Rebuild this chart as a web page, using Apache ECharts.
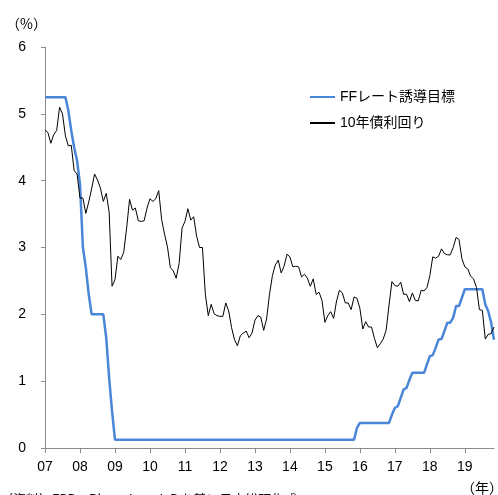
<!DOCTYPE html>
<html lang="ja">
<head>
    <meta charset="UTF-8">
    <title>FFレート誘導目標と10年債利回り</title>
    <style type="text/css">
        *{
            margin: 0;
            padding: 0;
        }
        #main{
            width: 498px;
            height: 495px;
            position: absolute;
        }
    </style>
</head>
<body>
    <div id="main"></div>
    <script src="https://cdn.jsdelivr.net/npm/echarts@6/dist/echarts.min.js"></script>
    <script type="text/javascript">
        // 月次データ（2007年1月～2019年11月）
        var years = ['2007','2008','2009','2010','2011','2012','2013','2014','2015','2016','2017','2018','2019'];
        var lastMonth = 11;

        var ffRate = [
            5.25,5.25,5.25,5.25,5.25,5.25,5.25,5.25,5.05,4.75,4.5,4.3,      // 07
            3.95,3.0,2.7,2.3,2.0,2.0,2.0,2.0,2.0,1.65,1.05,0.55,           // 08
            0.125,0.125,0.125,0.125,0.125,0.125,0.125,0.125,0.125,0.125,0.125,0.125, // 09
            0.125,0.125,0.125,0.125,0.125,0.125,0.125,0.125,0.125,0.125,0.125,0.125, // 10
            0.125,0.125,0.125,0.125,0.125,0.125,0.125,0.125,0.125,0.125,0.125,0.125, // 11
            0.125,0.125,0.125,0.125,0.125,0.125,0.125,0.125,0.125,0.125,0.125,0.125, // 12
            0.125,0.125,0.125,0.125,0.125,0.125,0.125,0.125,0.125,0.125,0.125,0.125, // 13
            0.125,0.125,0.125,0.125,0.125,0.125,0.125,0.125,0.125,0.125,0.125,0.125, // 14
            0.125,0.125,0.125,0.125,0.125,0.125,0.125,0.125,0.125,0.125,0.125,0.3,   // 15
            0.375,0.375,0.375,0.375,0.375,0.375,0.375,0.375,0.375,0.375,0.375,0.5,   // 16
            0.6,0.625,0.75,0.875,0.9,1.02,1.125,1.125,1.125,1.125,1.125,1.25,       // 17
            1.375,1.39,1.5,1.625,1.63,1.75,1.875,1.875,1.95,2.125,2.125,2.25,        // 18
            2.375,2.375,2.375,2.375,2.375,2.375,2.375,2.15,2.05,1.88,1.62            // 19
        ];

        var bond10y = [
            4.76,4.72,4.56,4.69,4.75,5.10,5.00,4.67,4.52,4.53,4.15,4.10,   // 07
            3.74,3.74,3.51,3.68,3.88,4.10,4.01,3.89,3.69,3.81,3.53,2.42,   // 08
            2.52,2.87,2.82,2.93,3.29,3.72,3.56,3.59,3.40,3.39,3.40,3.59,   // 09
            3.73,3.69,3.73,3.85,3.42,3.20,3.01,2.70,2.65,2.54,2.76,3.29,   // 10
            3.39,3.58,3.41,3.46,3.17,3.00,3.00,2.30,1.98,2.15,2.01,1.98,   // 11
            1.97,1.97,2.17,2.05,1.80,1.62,1.53,1.68,1.72,1.75,1.65,1.72,   // 12
            1.91,1.98,1.96,1.76,1.93,2.30,2.58,2.74,2.81,2.62,2.72,2.90,   // 13
            2.86,2.71,2.72,2.71,2.56,2.60,2.54,2.42,2.53,2.30,2.33,2.21,   // 14
            1.88,1.98,2.04,1.94,2.20,2.36,2.32,2.17,2.17,2.07,2.26,2.24,   // 15
            2.09,1.78,1.89,1.81,1.81,1.64,1.50,1.56,1.63,1.76,2.14,2.49,   // 16
            2.43,2.42,2.48,2.30,2.30,2.19,2.32,2.21,2.20,2.36,2.35,2.40,   // 17
            2.58,2.86,2.84,2.87,2.98,2.91,2.89,2.89,3.00,3.15,3.12,2.83,   // 18
            2.71,2.68,2.57,2.53,2.40,2.07,2.06,1.63,1.70,1.71,1.81         // 19
        ];

        var months = [];
        years.forEach(function (y, i) {
            var n = (i === years.length - 1) ? lastMonth : 12;
            for (var m = 1; m <= n; m++) {
                months.push(y + '/' + (m < 10 ? '0' + m : m));
            }
        });

        var font = "'Liberation Sans', 'Noto Sans CJK JP', sans-serif";
        var myChart = echarts.init(document.getElementById('main'));

        var option = {
            animation: false,
            backgroundColor: '#ffffff',
            textStyle: { fontFamily: font },
            grid: { left: 45, right: 4, top: 47, bottom: 47 },
            legend: {
                orient: 'vertical',
                left: 309,
                top: 90,
                padding: 0,
                itemWidth: 25,
                itemHeight: 14,
                itemGap: 12,
                // 凡例は線だけ（丸マーカーを消す）
                itemStyle: { color: 'rgba(0,0,0,0)', borderColor: 'rgba(0,0,0,0)', borderWidth: 0, opacity: 0 },
                textStyle: { fontSize: 14, color: '#000', fontFamily: font },
                data: ['FFレート誘導目標', '10年債利回り']
            },
            graphic: [
                { type: 'text', left: 6, top: 17, style: { text: '（%）', fill: '#000', font: "14px 'Noto Sans CJK JP'" } },
                { type: 'text', left: 461, top: 481, style: { text: '（年）', fill: '#000', font: "14px 'Noto Sans CJK JP'" } },
                { type: 'text', left: 0, top: 493, style: { text: '（資料）FRB、Bloomberg L.P.を基に日本総研作成', fill: '#000', font: "13px 'Noto Sans CJK JP'" } }
            ],
            xAxis: {
                type: 'category',
                data: months,
                boundaryGap: false,
                axisLine: { lineStyle: { color: '#8c8c8c', width: 1 } },
                axisTick: { interval: 11, length: 5, lineStyle: { color: '#8c8c8c' } },
                axisLabel: {
                    interval: 11,
                    margin: 12,
                    fontSize: 14,
                    color: '#000',
                    formatter: function (v) { return v.substr(2, 2); }
                },
                splitLine: { show: false }
            },
            yAxis: {
                type: 'value',
                min: 0,
                max: 6,
                interval: 1,
                axisLine: { show: true, lineStyle: { color: '#8c8c8c', width: 1 } },
                axisTick: { show: true, length: 4, lineStyle: { color: '#8c8c8c' } },
                axisLabel: { margin: 19, fontSize: 14, color: '#000' },
                splitLine: { show: false }
            },
            series: [
                {
                    name: 'FFレート誘導目標',
                    type: 'line',
                    data: ffRate,
                    symbol: 'none',
                    lineStyle: { color: '#4a86d8', width: 2.5 },
                    itemStyle: { color: '#4a86d8' },
                    z: 2
                },
                {
                    name: '10年債利回り',
                    type: 'line',
                    data: bond10y,
                    symbol: 'none',
                    lineStyle: { color: '#000000', width: 1 },
                    itemStyle: { color: '#000000' },
                    z: 3
                }
            ]
        };

        myChart.setOption(option);
    </script>
</body>
</html>
